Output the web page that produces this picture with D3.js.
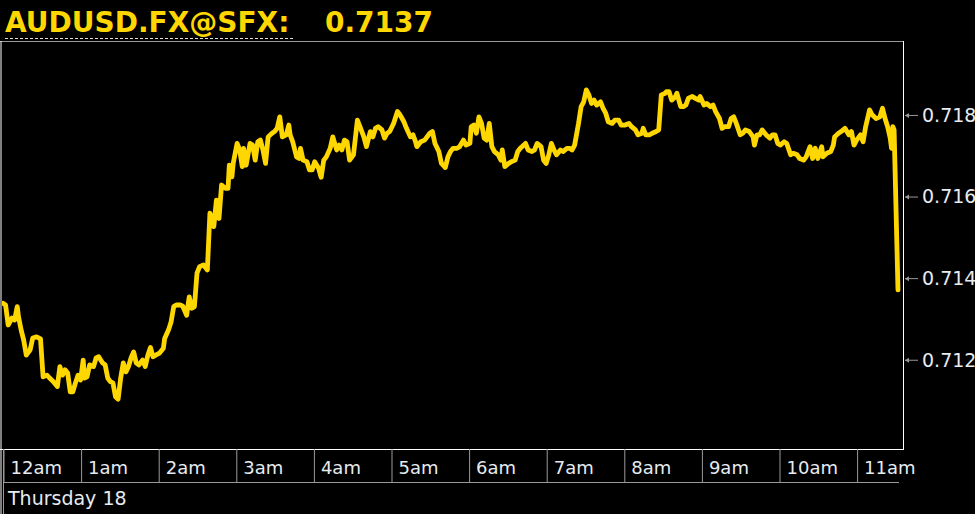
<!DOCTYPE html>
<html>
<head>
<meta charset="utf-8">
<script src="https://cdn.jsdelivr.net/npm/d3@7"></script>
<style>
  html, body { margin: 0; padding: 0; background: #000; }
  svg { display: block; }
</style>
</head>
<body>
<svg id="chart" width="975" height="514"></svg>
<script>
// ---------- DATA ----------
const symbol = "AUDUSD.FX@SFX:";
const lastPrice = "0.7137";
const dayLabel = "Thursday 18";
const hourLabels = ["12am","1am","2am","3am","4am","5am","6am","7am","8am","9am","10am","11am"];
const hourTicks = [0,60,120,180,240,300,360,420,480,540,600,660]; // minutes since midnight
const priceTicks = [0.712, 0.714, 0.716, 0.718];

// minutes since midnight
const minutes = [
  0,2,4,7,9,11,12,14,16,18,
  21,23,26,29,31,34,36,39,42,44,
  46,48,50,52,54,56,58,60,62,63,
  65,67,70,72,74,77,79,81,83,85,
  87,89,91,93,95,97,99,101,103,105,
  108,110,112,114,116,118,121,124,125,128,
  130,132,134,137,139,142,144,146,148,150,
  152,155,158,160,161,163,165,167,169,172,
  174,175,177,178,181,183,185,186,188,191,
  193,195,197,199,201,203,205,208,210,212,
  214,216,219,221,222,224,227,229,230,232,
  235,237,239,241,244,246,248,250,253,255,
  258,260,262,264,266,268,271,274,276,279,
  281,284,286,288,290,293,295,297,299,302,
  305,307,310,312,315,317,319,320,323,326,
  330,332,334,337,339,342,344,346,348,351,
  353,356,358,361,362,364,366,368,370,372,
  374,376,378,380,383,385,386,388,391,393,
  396,398,400,404,406,409,411,413,416,418,
  420,422,424,426,428,431,433,436,438,440,
  442,445,447,449,451,453,455,457,459,462,
  464,466,468,471,473,476,478,481,484,486,
  489,491,494,495,497,500,502,505,507,509,
  512,513,515,517,520,521,524,526,528,530,
  533,535,538,539,542,544,547,549,551,554,
  556,558,561,563,565,567,570,572,574,577,
  580,581,583,585,587,590,593,595,597,599,
  601,604,606,609,611,614,616,619,621,624,
  626,628,630,633,634,637,640,642,643,646,
  648,651,654,656,658,660,663,665,667,670,
  672,675,678,680,682,684,686,687,688,689,
  692
];

const prices = [
  0.71337,0.71333,0.71284,0.71301,0.71296,0.71329,0.71304,0.71272,0.71247,0.71210,
  0.71223,0.71252,0.71255,0.71250,0.71157,0.71161,0.71154,0.71145,0.71133,0.71182,
  0.71161,0.71174,0.71166,0.71120,0.71120,0.71142,0.71161,0.71149,0.71198,0.71154,
  0.71157,0.71186,0.71182,0.71203,0.71206,0.71191,0.71186,0.71154,0.71145,0.71142,
  0.71108,0.71102,0.71154,0.71191,0.71169,0.71182,0.71203,0.71218,0.71191,0.71186,
  0.71198,0.71182,0.71210,0.71229,0.71206,0.71210,0.71215,0.71227,0.71251,0.71272,
  0.71292,0.71329,0.71333,0.71333,0.71330,0.71308,0.71353,0.71325,0.71329,0.71411,
  0.71427,0.71431,0.71419,0.71558,0.71549,0.71525,0.71590,0.71545,0.71627,0.71619,
  0.71619,0.71676,0.71647,0.71680,0.71729,0.71713,0.71672,0.71717,0.71676,0.71729,
  0.71725,0.71688,0.71733,0.71737,0.71713,0.71680,0.71745,0.71754,0.71758,0.71766,
  0.71794,0.71745,0.71750,0.71774,0.71750,0.71733,0.71696,0.71692,0.71717,0.71688,
  0.71684,0.71664,0.71664,0.71684,0.71668,0.71646,0.71688,0.71696,0.71717,0.71745,
  0.71713,0.71725,0.71713,0.71737,0.71733,0.71688,0.71701,0.71786,0.71770,0.71745,
  0.71721,0.71758,0.71745,0.71766,0.71770,0.71762,0.71742,0.71754,0.71758,0.71778,
  0.71807,0.71799,0.71782,0.71766,0.71745,0.71750,0.71733,0.71721,0.71733,0.71737,
  0.71754,0.71758,0.71729,0.71709,0.71680,0.71670,0.71696,0.71709,0.71717,0.71717,
  0.71721,0.71737,0.71725,0.71729,0.71770,0.71774,0.71754,0.71794,0.71778,0.71742,
  0.71737,0.71778,0.71721,0.71709,0.71701,0.71688,0.71713,0.71672,0.71680,0.71684,
  0.71688,0.71709,0.71717,0.71729,0.71713,0.71709,0.71713,0.71729,0.71721,0.71688,
  0.71680,0.71701,0.71729,0.71713,0.71701,0.71713,0.71709,0.71717,0.71717,0.71713,
  0.71725,0.71778,0.71819,0.71831,0.71860,0.71848,0.71827,0.71835,0.71823,0.71831,
  0.71815,0.71803,0.71782,0.71778,0.71786,0.71786,0.71774,0.71774,0.71778,0.71770,
  0.71762,0.71750,0.71754,0.71766,0.71750,0.71750,0.71754,0.71758,0.71762,0.71848,
  0.71852,0.71856,0.71856,0.71835,0.71844,0.71852,0.71819,0.71819,0.71823,0.71840,
  0.71844,0.71840,0.71835,0.71844,0.71823,0.71827,0.71819,0.71823,0.71807,0.71790,
  0.71766,0.71770,0.71770,0.71790,0.71794,0.71778,0.71750,0.71754,0.71762,0.71758,
  0.71745,0.71725,0.71750,0.71750,0.71762,0.71750,0.71742,0.71750,0.71750,0.71729,
  0.71725,0.71733,0.71729,0.71701,0.71705,0.71701,0.71692,0.71688,0.71696,0.71721,
  0.71692,0.71717,0.71692,0.71721,0.71696,0.71705,0.71709,0.71725,0.71745,0.71754,
  0.71758,0.71766,0.71750,0.71758,0.71725,0.71737,0.71750,0.71733,0.71770,0.71811,
  0.71799,0.71790,0.71794,0.71815,0.71790,0.71770,0.71742,0.71717,0.71770,0.71762,
  0.71370
];

// ---------- LAYOUT ----------
const W = 975, H = 514;
const plot = { left: 2, top: 41, right: 903, bottom: 449 };
const axisRowBottom = 482;
const GOLD = "#FFD700";
const TEXT = "#e6ebf0";
const GREY = "#9a9a9a";
const FONT = "'DejaVu Sans', Verdana, sans-serif";

const svg = d3.select("#chart");
svg.append("rect").attr("width", W).attr("height", H).attr("fill", "#000");

const x = d3.scaleLinear().domain([0, 720]).range([3, 3 + 77.6 * 12]);
const y = d3.scaleLinear().domain([0.7098, 0.7198]).range([plot.bottom, plot.top]);

const data = minutes.map((m, i) => ({ m, p: prices[i] }));

// ---------- TITLE ----------
const title = svg.append("g").attr("font-family", FONT).attr("font-weight", "bold")
  .attr("font-size", 28).attr("fill", GOLD);
title.append("text").attr("x", 5).attr("y", 32).text(symbol);
title.append("text").attr("x", 325).attr("y", 32).text(lastPrice);
svg.append("line").attr("x1", 5).attr("x2", 293).attr("y1", 38.5).attr("y2", 38.5)
  .attr("stroke", "#e8e0cc").attr("stroke-width", 1).attr("stroke-dasharray", "3,2");

// top grey line
svg.append("line").attr("x1", 0).attr("x2", plot.right).attr("y1", plot.top + 0.5).attr("y2", plot.top + 0.5)
  .attr("stroke", GREY).attr("stroke-width", 1);

// ---------- LINE ----------
svg.append("clipPath").attr("id", "clip").append("rect")
  .attr("x", plot.left).attr("y", plot.top).attr("width", plot.right - plot.left).attr("height", plot.bottom - plot.top);

const line = d3.line().x(d => x(d.m)).y(d => y(d.p));
svg.append("path").datum(data)
  .attr("clip-path", "url(#clip)")
  .attr("fill", "none").attr("stroke", GOLD).attr("stroke-width", 4.8)
  .attr("stroke-linejoin", "round").attr("stroke-linecap", "round")
  .attr("d", line);

// ---------- FRAME ----------
svg.append("line").attr("x1", plot.right + 0.5).attr("x2", plot.right + 0.5).attr("y1", plot.top).attr("y2", plot.bottom + 1)
  .attr("stroke", "#fff").attr("stroke-width", 1);
svg.append("line").attr("x1", 0).attr("x2", plot.right + 1).attr("y1", plot.bottom + 0.5).attr("y2", plot.bottom + 0.5)
  .attr("stroke", "#fff").attr("stroke-width", 1);
svg.append("line").attr("x1", 1).attr("x2", 1).attr("y1", plot.top).attr("y2", H)
  .attr("stroke", "#fff").attr("stroke-width", 1);

// ---------- Y AXIS ----------
const yAxis = d3.axisRight(y).tickValues(priceTicks).tickFormat(d3.format(".3f")).tickSize(0).tickPadding(19);
const yg = svg.append("g").attr("transform", `translate(${plot.right},0)`).call(yAxis);
yg.select(".domain").remove();
yg.selectAll(".tick text").attr("font-family", FONT).attr("font-size", 19).attr("fill", TEXT).attr("dy", "0.36em");
yg.selectAll(".tick").append("line").attr("x1", 2).attr("x2", 15).attr("y1", 0.5).attr("y2", 0.5)
  .attr("stroke", GREY).attr("stroke-width", 1);
yg.selectAll(".tick").append("path").attr("d", "M2,0.5 L6,-2 L6,3 Z").attr("fill", GREY);

// ---------- X AXIS ----------
const xAxis = d3.axisBottom(x).tickValues(hourTicks).tickFormat((d, i) => hourLabels[i])
  .tickSize(axisRowBottom - plot.bottom).tickPadding(0);
const xg = svg.append("g").attr("transform", `translate(0,${plot.bottom})`).call(xAxis);
xg.select(".domain").remove();
xg.selectAll(".tick line").attr("stroke", GREY).attr("stroke-width", 1)
  .attr("transform", "translate(0.5,0)");
xg.selectAll(".tick text").attr("font-family", FONT).attr("font-size", 18).attr("fill", TEXT)
  .attr("text-anchor", "start").attr("x", 7).attr("y", 25).attr("dy", 0);

svg.append("line").attr("x1", 3).attr("x2", 899).attr("y1", axisRowBottom + 0.5).attr("y2", axisRowBottom + 0.5)
  .attr("stroke", GREY).attr("stroke-width", 1);
svg.append("line").attr("x1", 3.5).attr("x2", 3.5).attr("y1", plot.bottom).attr("y2", H)
  .attr("stroke", GREY).attr("stroke-width", 1);

svg.append("text").attr("x", 8).attr("y", 504.5).attr("font-family", FONT).attr("font-size", 19)
  .attr("fill", TEXT).text(dayLabel);
</script>
</body>
</html>
